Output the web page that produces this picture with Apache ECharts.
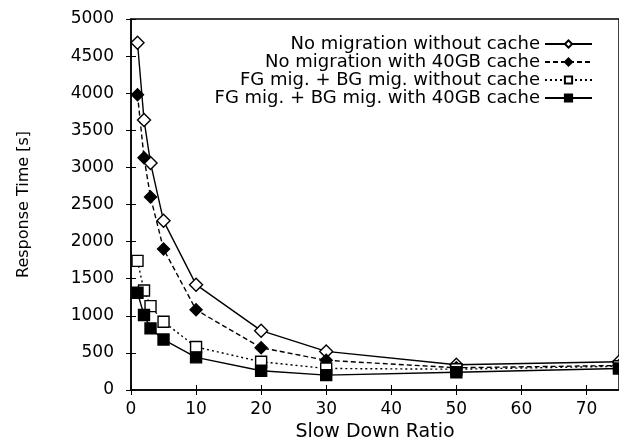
<!DOCTYPE html>
<html><head><meta charset="utf-8">
<script src="https://cdn.jsdelivr.net/npm/echarts@6/dist/echarts.min.js"></script>
<style>html,body{margin:0;padding:0;background:#fff}#c{width:619px;height:439px}</style>
</head><body><div id="c"></div>
<script>
const xValues = [1, 2, 3, 5, 10, 20, 30, 50, 75];
const seriesNames = [
  'No migration without cache',
  'No migration with 40GB cache',
  'FG mig. + BG mig. without cache',
  'FG mig. + BG mig. with 40GB cache'
];
const noMigNoCache = [4680, 3640, 3060, 2280, 1420, 800, 520, 340, 380];
const noMigCache = [3980, 3130, 2600, 1900, 1080, 570, 400, 300, 330];
const fgbgNoCache = [1740, 1340, 1130, 920, 580, 380, 290, 280, 320];
const fgbgCache = [1310, 1010, 830, 680, 440, 260, 200, 240, 290];
const xTicks = [0, 10, 20, 30, 40, 50, 60, 70];
const yTicks = [0, 500, 1000, 1500, 2000, 2500, 3000, 3500, 4000, 4500, 5000];

const pair = arr => xValues.map((x, i) => [x, arr[i]]);
const font = '"DejaVu Sans", sans-serif';
const chart = echarts.init(document.getElementById('c'));
const mk = (name, data, symbol, filled, lineType, size) => ({
  name, type: 'line', data: pair(data), symbol, symbolSize: size,
  lineStyle: { color: '#000', width: 1.4, type: lineType },
  itemStyle: { color: filled ? '#000' : '#fff', borderColor: '#000', borderWidth: 1.4 },
  emphasis: { disabled: true }, animation: false, z: 3
});
chart.setOption({
  animation: false,
  grid: { left: 131, right: 0, top: 19, bottom: 49, show: true, borderColor: '#000', borderWidth: 1.5,
    containLabel: false, outerBoundsMode: 'none' },
  legend: {
    orient: 'vertical', right: 21, top: 30, align: 'right', itemGap: 0,
    itemWidth: 47, itemHeight: 9,
    textStyle: { fontFamily: font, fontSize: 18, color: '#000', lineHeight: 18 },
    data: seriesNames
  },
  xAxis: [{
    type: 'value', min: 0, max: 75, interval: 10,
    name: 'Slow Down Ratio', nameLocation: 'middle', nameGap: 28,
    nameTextStyle: { fontFamily: font, fontSize: 19, color: '#000' },
    axisLine: { show: true, lineStyle: { color: '#000', width: 1.5 } },
    axisTick: { show: true, inside: true, length: 5, lineStyle: { color: '#000' } },
    axisLabel: { fontFamily: font, fontSize: 17, color: '#000', margin: 11,
      formatter: v => xTicks.includes(v) ? String(v) : '' },
    splitLine: { show: false }
  }, {
    type: 'value', min: 0, max: 75, interval: 10, position: 'top',
    axisLine: { show: false }, axisLabel: { show: false },
    axisTick: { show: true, inside: true, length: 5, lineStyle: { color: '#000' } },
    splitLine: { show: false }
  }],
  yAxis: [{
    type: 'value', min: 0, max: 5000, interval: 500,
    name: 'Response Time [s]', nameLocation: 'middle', nameGap: 99,
    nameTextStyle: { fontFamily: font, fontSize: 16, color: '#000' },
    axisLine: { show: true, lineStyle: { color: '#000', width: 1.5 } },
    axisTick: { show: true, inside: true, length: 5, lineStyle: { color: '#000' } },
    axisLabel: { fontFamily: font, fontSize: 17, color: '#000', margin: 17,
      formatter: v => yTicks.includes(v) ? String(v) : '' },
    splitLine: { show: false }
  }, {
    type: 'value', min: 0, max: 5000, interval: 500, position: 'right',
    axisLine: { show: false }, axisLabel: { show: false },
    axisTick: { show: true, inside: true, length: 5, lineStyle: { color: '#000' } },
    splitLine: { show: false }
  }],
  series: [
    mk(seriesNames[0], noMigNoCache, 'diamond', false, 'solid', 13),
    mk(seriesNames[1], noMigCache, 'diamond', true, [5, 3], 12),
    mk(seriesNames[2], fgbgNoCache, 'rect', false, [2, 3], 11),
    mk(seriesNames[3], fgbgCache, 'rect', true, 'solid', 11)
  ]
});
</script></body></html>
